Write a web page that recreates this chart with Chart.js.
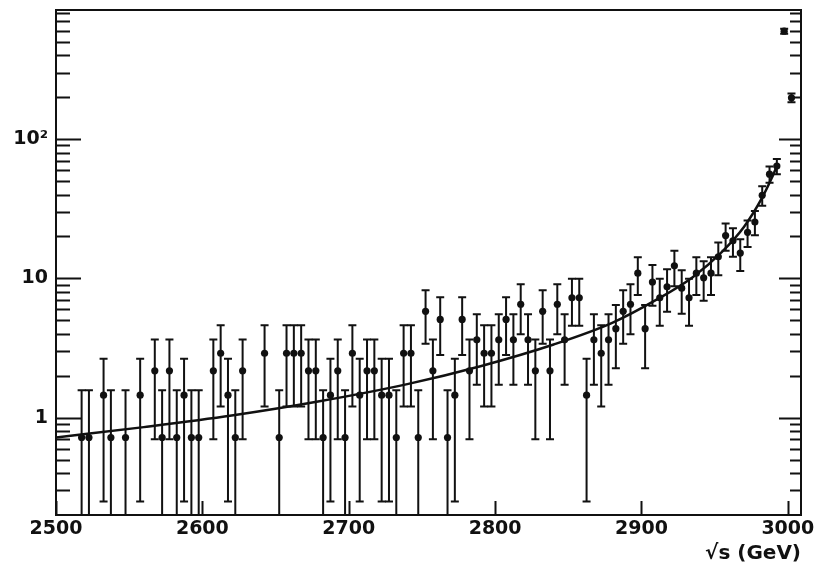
<!DOCTYPE html>
<html>
<head>
<meta charset="utf-8">
<script src="https://cdn.jsdelivr.net/npm/chart.js@4.4.1/dist/chart.umd.min.js"></script>
<style>
  html, body { margin: 0; padding: 0; background: #fff; }
  #wrap { width: 817px; height: 573px; }
</style>
</head>
<body>
<div id="wrap"><canvas id="spectrumChart"></canvas></div>
<script>
// Measured points (bin centres in GeV), values and their errors
const binCenters = [
  2517.5, 2522.5, 2532.5, 2537.5, 2547.5, 2557.5, 2567.5, 2572.5, 2577.5, 2582.5,
  2587.5, 2592.5, 2597.5, 2607.5, 2612.5, 2617.5, 2622.5, 2627.5, 2642.5, 2652.5,
  2657.5, 2662.5, 2667.5, 2672.5, 2677.5, 2682.5, 2687.5, 2692.5, 2697.5, 2702.5,
  2707.5, 2712.5, 2717.5, 2722.5, 2727.5, 2732.5, 2737.5, 2742.5, 2747.5, 2752.5,
  2757.5, 2762.5, 2767.5, 2772.5, 2777.5, 2782.5, 2787.5, 2792.5, 2797.5, 2802.5,
  2807.5, 2812.5, 2817.5, 2822.5, 2827.5, 2832.5, 2837.5, 2842.5, 2847.5, 2852.5,
  2857.5, 2862.5, 2867.5, 2872.5, 2877.5, 2882.5, 2887.5, 2892.5, 2897.5, 2902.5,
  2907.5, 2912.5, 2917.5, 2922.5, 2927.5, 2932.5, 2937.5, 2942.5, 2947.5, 2952.5,
  2957.5, 2962.5, 2967.5, 2972.5, 2977.5, 2982.5, 2987.5, 2992.5, 2997.5, 3002.5
];
const yields = [
  0.72, 0.72, 1.45, 0.72, 0.72, 1.45, 2.17, 0.72, 2.17, 0.72,
  1.45, 0.72, 0.72, 2.17, 2.9, 1.45, 0.72, 2.17, 2.9, 0.72,
  2.9, 2.9, 2.9, 2.17, 2.17, 0.72, 1.45, 2.17, 0.72, 2.9,
  1.45, 2.17, 2.17, 1.45, 1.45, 0.72, 2.9, 2.9, 0.72, 5.8,
  2.17, 5.07, 0.72, 1.45, 5.07, 2.17, 3.62, 2.9, 2.9, 3.62,
  5.07, 3.62, 6.52, 3.62, 2.17, 5.8, 2.17, 6.52, 3.62, 7.25,
  7.25, 1.45, 3.62, 2.9, 3.62, 4.35, 5.8, 6.52, 10.9, 4.35,
  9.42, 7.25, 8.7, 12.3, 8.5, 7.25, 10.9, 10.1, 10.9, 14.3,
  20.3, 18.6, 15.2, 21.4, 25.4, 39.5, 56, 64, 595, 198
];
const errors = [
  0.85, 0.85, 1.2, 0.85, 0.85, 1.2, 1.47, 0.85, 1.47, 0.85,
  1.2, 0.85, 0.85, 1.47, 1.7, 1.2, 0.85, 1.47, 1.7, 0.85,
  1.7, 1.7, 1.7, 1.47, 1.47, 0.85, 1.2, 1.47, 0.85, 1.7,
  1.2, 1.47, 1.47, 1.2, 1.2, 0.85, 1.7, 1.7, 0.85, 2.41,
  1.47, 2.25, 0.85, 1.2, 2.25, 1.47, 1.9, 1.7, 1.7, 1.9,
  2.25, 1.9, 2.55, 1.9, 1.47, 2.41, 1.47, 2.55, 1.9, 2.69,
  2.69, 1.2, 1.9, 1.7, 1.9, 2.09, 2.41, 2.55, 3.3, 2.09,
  3.07, 2.69, 2.95, 3.51, 2.92, 2.69, 3.3, 3.18, 3.3, 3.78,
  4.5, 4.31, 3.9, 4.63, 5.04, 6.28, 7.48, 8.0, 24.4, 14.1
];

// Fitted curve
const fitX = [2500, 2560, 2620, 2680, 2740, 2790, 2840, 2880, 2910, 2935, 2955, 2970, 2982, 2989, 2993];
const fitY = [0.72, 0.855, 1.035, 1.31, 1.74, 2.34, 3.35, 4.79, 7.0, 10.2, 15.5, 23.4, 37.2, 52.5, 66];

// Axis ticks
const xTickValues = [2500, 2600, 2700, 2800, 2900, 3000];
const yLabelValues = [1, 10, 100];
const yMinorValues = [
  0.2, 0.3, 0.4, 0.5, 0.6, 0.7, 0.8, 0.9,
  2, 3, 4, 5, 6, 7, 8, 9,
  20, 30, 40, 50, 60, 70, 80, 90,
  200, 300, 400, 500, 600, 700, 800
];

const ink = '#111';
const tickFont = { family: 'DejaVu Sans', size: 19, weight: 'bold' };

// Vertical error bars with small caps
const errorBars = {
  id: 'errorBars',
  afterDatasetsDraw(chart) {
    const { ctx, chartArea, scales: { x, y } } = chart;
    ctx.save();
    ctx.beginPath();
    ctx.rect(chartArea.left, chartArea.top, chartArea.right - chartArea.left, chartArea.bottom - chartArea.top);
    ctx.clip();
    ctx.strokeStyle = ink;
    ctx.lineWidth = 2;
    binCenters.forEach((bx, i) => {
      const px = x.getPixelForValue(bx);
      const hi = yields[i] + errors[i];
      const lo = yields[i] - errors[i];
      const pHi = y.getPixelForValue(hi);
      const pLo = lo > 0 ? y.getPixelForValue(lo) : chartArea.bottom + 5;
      ctx.beginPath();
      ctx.moveTo(px, pHi);
      ctx.lineTo(px, pLo);
      ctx.moveTo(px - 4, pHi);
      ctx.lineTo(px + 4, pHi);
      if (lo > 0) {
        ctx.moveTo(px - 4, pLo);
        ctx.lineTo(px + 4, pLo);
      }
      ctx.stroke();
    });
    ctx.restore();
  }
};

// Frame and inward ticks
const frame = {
  id: 'frame',
  afterDraw(chart) {
    const { ctx, chartArea: a, scales: { x, y } } = chart;
    ctx.save();
    ctx.strokeStyle = ink;
    ctx.lineWidth = 2;
    ctx.strokeRect(a.left, a.top, a.right - a.left, a.bottom - a.top);
    ctx.beginPath();
    const yTick = (v, lenL, lenR) => {
      const py = Math.round(y.getPixelForValue(v)) + 0.5;
      if (py < a.top || py > a.bottom) return;
      ctx.moveTo(a.left, py);
      ctx.lineTo(a.left + lenL, py);
      ctx.moveTo(a.right, py);
      ctx.lineTo(a.right - lenR, py);
    };
    yLabelValues.forEach(v => yTick(v, 25, 22));
    yMinorValues.forEach(v => yTick(v, 14, 11));
    xTickValues.forEach(v => {
      const px = Math.round(x.getPixelForValue(v)) + 0.5;
      ctx.moveTo(px, a.bottom);
      ctx.lineTo(px, a.bottom - 14);
    });
    ctx.stroke();
    ctx.restore();
  }
};

const ctxSpectrum = document.getElementById('spectrumChart').getContext('2d');

const spectrumChart = new Chart(ctxSpectrum, {
  type: 'scatter',
  data: {
    datasets: [{
      label: 'data',
      data: binCenters.map((bx, i) => ({ x: bx, y: yields[i] })),
      pointRadius: 3.6,
      pointBackgroundColor: ink,
      pointBorderWidth: 0,
      showLine: false,
    }, {
      label: 'fit',
      type: 'line',
      data: fitX.map((fx, i) => ({ x: fx, y: fitY[i] })),
      borderColor: ink,
      borderWidth: 2.5,
      pointRadius: 0,
      cubicInterpolationMode: 'monotone',
      fill: false,
    }]
  },
  options: {
    responsive: true,
    maintainAspectRatio: false,
    animation: false,
    devicePixelRatio: 1,
    layout: { padding: { left: 0, right: 16, top: 10, bottom: 0 } },
    scales: {
      x: {
        type: 'linear',
        min: 2500,
        max: 3009,
        afterBuildTicks: (scale) => { scale.ticks = xTickValues.map(v => ({ value: v })); },
        afterFit: (scale) => {
          scale.height = 58;
          scale.paddingLeft = 0;
          scale.paddingRight = 0;
        },
        grid: { display: false, drawTicks: false },
        border: { display: false },
        ticks: {
          color: ink,
          font: tickFont,
          padding: 3,
          maxRotation: 0,
          callback: (v) => String(v),
        },
        title: {
          display: true,
          text: '√s (GeV)',
          align: 'end',
          color: ink,
          font: { family: 'DejaVu Sans', size: 20, weight: 'bold' },
          padding: { top: 0, bottom: 7 },
        },
      },
      y: {
        type: 'logarithmic',
        min: 0.2,
        max: 845,
        afterBuildTicks: (scale) => { scale.ticks = yLabelValues.map(v => ({ value: v })); },
        afterFit: (scale) => {
          scale.width = 56;
          scale.paddingTop = 0;
          scale.paddingBottom = 0;
        },
        grid: { display: false, drawTicks: false },
        border: { display: false },
        ticks: {
          color: ink,
          font: tickFont,
          padding: 8,
          callback: (v) => (v === 100 ? '10²' : String(v)),
        },
      },
    },
    plugins: {
      legend: { display: false },
      tooltip: { enabled: false },
    },
  },
  plugins: [errorBars, frame],
});
</script>
</body>
</html>
